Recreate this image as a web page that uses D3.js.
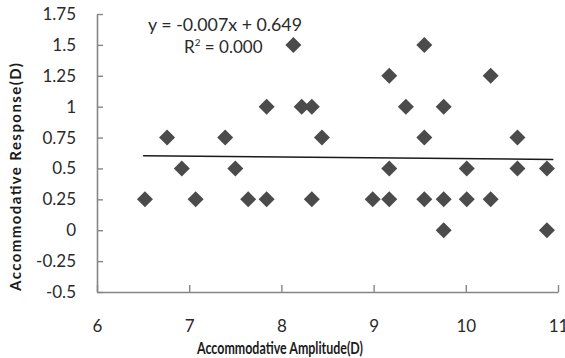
<!DOCTYPE html>
<html>
<head>
<meta charset="utf-8">
<script src="https://cdn.jsdelivr.net/npm/d3@7"></script>
<style>
  body { margin: 0; background: #fff; }
  text { font-family: Lato, "Open Sans", sans-serif; }
</style>
</head>
<body>
<div id="chart"></div>
<script>
// scatter of accommodative response vs amplitude, with linear trend

const amplitude = [
  6.52, 7.07, 7.64, 7.84, 8.33, 8.99, 9.17, 9.55, 9.76, 10.01, 10.27,
  6.92, 7.50, 9.17, 10.01, 10.56, 10.88,
  6.76, 7.39, 8.44, 9.55, 10.56,
  7.84, 8.22, 8.33, 9.35, 9.76,
  9.17, 10.27,
  8.13, 9.55,
  9.76, 10.88
];
const response = [
  0.25, 0.25, 0.25, 0.25, 0.25, 0.25, 0.25, 0.25, 0.25, 0.25, 0.25,
  0.5, 0.5, 0.5, 0.5, 0.5, 0.5,
  0.75, 0.75, 0.75, 0.75, 0.75,
  1, 1, 1, 1, 1,
  1.25, 1.25,
  1.5, 1.5,
  0, 0
];
const xTicks = [6, 7, 8, 9, 10, 11];
const yTicks = [-0.5, -0.25, 0, 0.25, 0.5, 0.75, 1, 1.25, 1.5, 1.75];
const trendSlope = -0.007, trendIntercept = 0.649;
const trendRange = [6.5, 10.95];
const eqLabel = "y = -0.007x + 0.649";

const width = 565, height = 358;
const margin = { top: 14, right: 7, bottom: 66, left: 97 };

const svg = d3.select("#chart").append("svg")
    .attr("width", width)
    .attr("height", height);

const x = d3.scaleLinear().domain([6, 11]).range([margin.left, width - margin.right]);
const y = d3.scaleLinear().domain([-0.5, 1.75]).range([height - margin.bottom, margin.top]);

const axisColor = "#868686";
const textColor = "#2a2a2a";

// x axis, ticks inside
const xAxis = svg.append("g")
    .attr("transform", `translate(0,${y(-0.5)})`)
    .call(d3.axisBottom(x).tickValues(xTicks).tickSizeInner(-7).tickSizeOuter(0).tickFormat(d3.format("d")));
xAxis.select(".domain").attr("stroke", axisColor).attr("stroke-width", 1.6);
xAxis.selectAll(".tick line").attr("stroke", axisColor).attr("stroke-width", 1.4);
xAxis.selectAll(".tick text")
    .attr("y", 28)
    .attr("fill", textColor)
    .attr("font-size", 17);

// y axis, ticks inside
const yAxis = svg.append("g")
    .attr("transform", `translate(${x(6)},0)`)
    .call(d3.axisLeft(y).tickValues(yTicks).tickSizeInner(-6).tickSizeOuter(0).tickFormat(d => String(d)));
yAxis.select(".domain").attr("stroke", axisColor).attr("stroke-width", 1.6);
yAxis.selectAll(".tick line").attr("stroke", axisColor).attr("stroke-width", 1.4);
yAxis.selectAll(".tick text")
    .attr("x", -21)
    .attr("fill", textColor)
    .attr("font-size", 17);

// trend line
svg.append("line")
    .attr("x1", x(trendRange[0]))
    .attr("y1", y(trendSlope * trendRange[0] + trendIntercept))
    .attr("x2", x(trendRange[1]))
    .attr("y2", y(trendSlope * trendRange[1] + trendIntercept))
    .attr("stroke", "#1a1a1a")
    .attr("stroke-width", 1.5);

// diamonds
const diamond = d3.symbol(d3.symbolSquare, 128);
svg.append("g").selectAll("path")
    .data(amplitude.map((a, i) => [a, response[i]]))
    .join("path")
    .attr("d", diamond)
    .attr("transform", d => `translate(${x(d[0])},${y(d[1])}) rotate(45)`)
    .attr("fill", "#4b4b4b");

// equation labels
svg.append("text")
    .attr("x", 148).attr("y", 31)
    .attr("font-size", 17)
    .attr("fill", textColor)
    .attr("textLength", 154).attr("lengthAdjust", "spacingAndGlyphs")
    .text(eqLabel);
const r2 = svg.append("text")
    .attr("x", 184).attr("y", 53)
    .attr("font-size", 17)
    .attr("fill", textColor);
r2.append("tspan").text("R");
r2.append("tspan").attr("font-size", 10).attr("dy", -7).text("2");
r2.append("tspan").attr("dy", 7).text(" = 0.000");

// axis titles
svg.append("text")
    .attr("x", 280).attr("y", 354)
    .attr("text-anchor", "middle")
    .attr("font-size", 17)
    .attr("font-weight", "bold")
    .attr("fill", "#1a1a1a")
    .attr("textLength", 166).attr("lengthAdjust", "spacingAndGlyphs")
    .text("Accommodative Amplitude(D)");

svg.append("text")
    .attr("transform", "translate(21,177) rotate(-90)")
    .attr("text-anchor", "middle")
    .attr("font-size", 15)
    .attr("font-weight", "bold")
    .attr("fill", "#1a1a1a")
    .attr("textLength", 228).attr("lengthAdjust", "spacing")
    .text("Accommodative Response(D)");
</script>
</body>
</html>
